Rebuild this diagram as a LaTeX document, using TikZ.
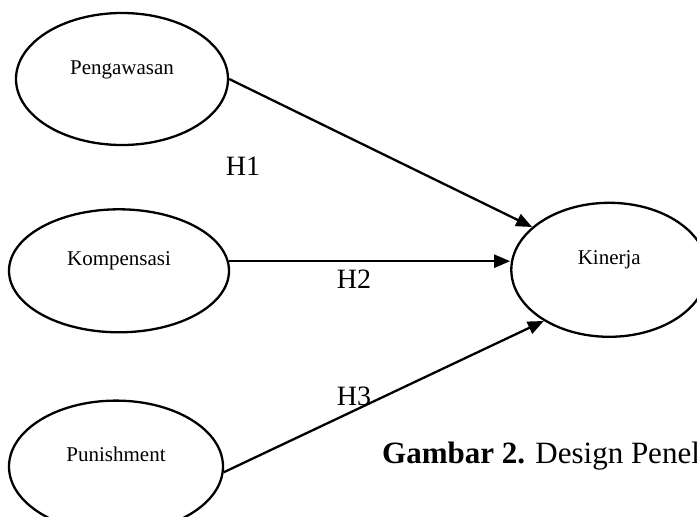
\documentclass[tikz,border=0pt]{standalone}
\usepackage{fontspec}
\setmainfont{Liberation Serif}
\usetikzlibrary{arrows.meta, positioning, shapes.geometric}
\newcommand{\linewd}{2.3pt}
\newcommand{\varfont}{\fontsize{21}{25}\selectfont}
\tikzstyle{construct} = [% a variable of the research model
  ellipse,
  draw=black,
  line width=\linewd,
  inner sep=0pt,
  text height=15pt,
  text depth=25pt,
  font=\varfont
  ]
\tikzstyle{hypo} = [% label of a hypothesis
  inner sep=0pt,
  anchor=base,
  font=\fontsize{28}{34}\selectfont
  ]
\tikzstyle{figcaption} = [% figure caption
  inner sep=0pt,
  anchor=base west,
  font=\fontsize{31}{37}\selectfont
  ]
\tikzstyle{arrow} = [% arrow format
  line width=\linewd,
  -{Triangle[length=16pt,width=13pt]}
  ]

\begin{document}
\begin{tikzpicture}[x=1pt, y=-1pt]
\useasboundingbox (0,0) rectangle (697,517);
\clip (0,0) rectangle (697,517);

%%% Nodes
\node[construct, minimum width=212pt, minimum height=132pt] (pengawasan) at (122,79) {Pengawasan};
\node[construct, minimum width=220pt, minimum height=123pt] (kompensasi) [below=62pt of pengawasan, xshift=-3pt] {Kompensasi};
\node[construct, minimum width=214pt, minimum height=132pt] (punishment) [below=66pt of kompensasi, xshift=-3pt] {Punishment};
\node[construct, minimum width=196pt, minimum height=134pt] (kinerja) [right=280pt of kompensasi, yshift=1pt] {Kinerja};

\node[hypo] (h1) at (243,175) {H1};
\node[hypo] (h2) at (354,288) {H2};
\node[hypo] (h3) at (354,405) {H3};
\node[figcaption] (caption) at (382,463) {\textbf{Gambar 2.} Design Penel};

%%% Hypotheses
\draw[arrow] (pengawasan.east) -- (kinerja.151);
\draw[arrow] (kompensasi.5) -- (kompensasi.5 -| kinerja.west);
\draw[arrow] (punishment.-3) -- (kinerja.218);

\end{tikzpicture}
\end{document}
